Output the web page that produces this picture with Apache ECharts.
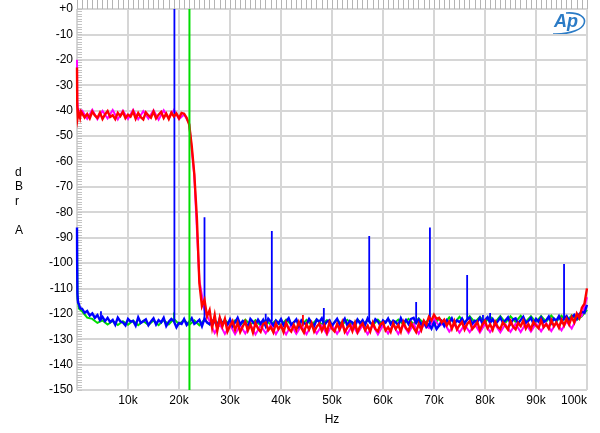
<!DOCTYPE html>
<html><head><meta charset="utf-8">
<script src="https://cdn.jsdelivr.net/npm/echarts@6/dist/echarts.min.js"></script>
<style>html,body{margin:0;padding:0;background:#fff}#c{width:600px;height:433px}</style>
</head><body><div id="c"></div>
<script>
// X values in kHz
const xTicks = [10,20,30,40,50,60,70,80,90,100];
const yTicks = [0,-10,-20,-30,-40,-50,-60,-70,-80,-90,-100,-110,-120,-130,-140,-150];

// Blue trace: lead-in (0..1k), then 1k..100k every 0.5k
const blueLead = [[0,-86],[0.03,-100],[0.08,-112],[0.2,-115.5],[0.4,-116.3],[0.6,-117.8],[0.8,-117.1]];
const blueStart = 1, blueStep = 0.5;
const blueValues = [
-118.0,-119.6,-118.9,-120.7,-119.8,-121.6,-120.5,-122.5,-121.2,-122.9,
-121.6,-123.3,-122.4,-124.3,-121.5,-123.0,-123.4,-124.6,-122.0,-123.1,
-122.8,-124.7,-121.4,-123.6,-122.9,-122.2,-124.5,-123.0,-121.8,-124.2,
-122.5,-123.4,-121.6,-124.8,-123.1,-122.0,-122.9,-125.3,-123.6,-124.0,
-122.1,-124.4,-123.2,-121.7,-124.0,-123.3,-122.4,-124.9,-121.9,-123.5,
-124.1,-122.6,-123.0,-125.0,-121.8,-123.7,-122.9,-124.3,-122.2,-124.8,
-123.4,-121.6,-124.2,-122.8,-123.5,-125.1,-122.0,-123.2,-124.4,-122.3,
-123.9,-122.4,-124.9,-121.9,-123.1,-124.6,-122.7,-123.8,-122.1,-124.5,
-123.0,-121.7,-124.3,-123.4,-122.2,-124.9,-122.6,-123.7,-124.1,-122.0,
-123.6,-124.8,-122.3,-123.2,-121.8,-124.5,-123.1,-122.5,-124.7,-123.3,
-122.0,-124.2,-123.5,-121.9,-124.6,-122.8,-123.4,-125.0,-122.3,-123.8,
-122.5,-124.4,-121.8,-123.6,-124.2,-122.1,-123.0,-124.7,-122.6,-123.5,
-121.9,-124.1,-122.7,-123.3,-124.5,-121.7,-123.8,-122.4,-124.0,-122.0,
-121.6,-123.7,-122.2,-124.3,-123.0,-125.2,-124.1,-125.8,-123.5,-126.0,
-124.6,-122.9,-124.8,-122.5,-123.6,-121.8,-124.0,-122.6,-123.3,-121.9,
-123.8,-122.3,-121.5,-124.0,-122.7,-123.2,-121.6,-123.9,-122.4,-121.3,
-123.6,-122.1,-124.1,-122.9,-121.5,-123.4,-122.6,-121.4,-123.9,-122.2,
-121.8,-123.7,-122.4,-121.2,-123.5,-122.8,-121.6,-123.9,-122.0,-123.1,
-121.4,-123.3,-122.5,-121.1,-123.6,-121.9,-122.7,-120.9,-123.2,-121.8,
-120.9,-122.6,-121.5,-120.4,-121.9,-120.1,-119.2,-119.6,-116.5
];
// spikes: [freq kHz, peak dBr, base dBr]
const blueSpikes = [[4.7,-119,-122.5],[19.1,0,-123],[25.0,-82,-123],[37.0,-120,-123],[38.2,-87.4,-123],[48.4,-117.7,-123],[57.3,-89.4,-123],[66.5,-115.4,-123],[69.2,-86,-124],[76.5,-104.7,-122.5],[79.6,-120.5,-122.5],[81.0,-119.7,-122.5],[95.5,-100.4,-122]];

// Red trace
const redLead = [[0,-23],[0.05,-38],[0.15,-42.5],[0.3,-40.6],[0.6,-42.8],[0.8,-40.4]];
const redStart = 1, redStep = 0.5;
const redValues = [
-40.6,-42.7,-41.3,-43.1,-40.4,-41.9,-42.9,-40.8,-43.3,-41.5,
-40.2,-42.5,-41.8,-43.4,-40.9,-42.2,-40.5,-43.0,-41.6,-42.4,
-40.3,-43.2,-41.0,-42.6,-43.5,-40.7,-41.9,-42.8,-40.4,-43.1,
-41.6,-40.5,-42.9,-41.2,-43.3,-40.8,-42.3,-41.1,-43.0,-40.9,
-41.2,-42.8,-45.5,-54.0,-65.0,-82.0,-108.0,-117.0,-114.5,-121.0,
-118.5,-125.5,-120.5,-126.8,-121.5,-125.0,-122.0,-127.0,-124.8,-122.9,
-126.3,-123.5,-127.2,-125.0,-123.1,-126.6,-124.2,-127.4,-123.6,-125.8,
-127.1,-124.0,-123.4,-126.5,-125.2,-127.3,-123.8,-126.0,-124.6,-127.2,
-123.5,-125.9,-127.0,-124.3,-126.4,-123.2,-125.6,-127.4,-124.1,-126.2,
-123.7,-127.0,-125.1,-123.9,-126.7,-124.5,-127.3,-123.4,-125.8,-126.9,
-124.0,-126.2,-123.3,-127.1,-125.4,-124.2,-126.8,-123.6,-127.2,-125.0,
-123.8,-126.5,-124.7,-127.0,-123.5,-125.9,-126.9,-124.1,-123.4,-126.6,
-125.3,-127.1,-123.7,-126.0,-124.4,-127.0,-123.2,-125.6,-126.7,-123.8,
-125.5,-127.2,-124.0,-126.4,-122.8,-124.3,-121.2,-122.6,-120.4,-122.0,
-121.6,-123.4,-122.3,-124.6,-123.0,-125.9,-122.9,-126.1,-124.5,-123.2,
-126.2,-124.0,-122.9,-126.0,-124.8,-123.3,-126.4,-124.2,-122.8,-125.7,
-124.1,-126.3,-123.1,-125.2,-126.0,-123.4,-124.7,-126.2,-122.9,-125.0,
-126.1,-123.6,-124.9,-122.7,-125.8,-124.0,-126.0,-123.2,-124.6,-125.7,
-122.6,-125.3,-124.1,-125.8,-122.5,-124.9,-123.4,-125.5,-122.4,-124.6,
-121.9,-124.2,-121.3,-123.4,-119.9,-121.7,-117.6,-116.0,-110.0
];
const redSpikes = [[44.3,-120.5,-125]];

// Magenta trace: 1k..100k every 1k
const magentaLead = [[0,-20],[0.05,-36],[0.2,-40]];
const magentaStart = 1, magentaStep = 1;
const magentaValues = [
-40.0,-43.2,-39.7,-43.4,-40.1,-43.1,-39.8,-43.5,-40.0,-43.3,
-39.7,-43.4,-40.2,-43.2,-39.9,-43.6,-39.9,-43.1,-39.8,-43.4,
-41.5,-45.0,-65.5,-107.0,-118.5,-123.0,-127.6,-124.0,-127.9,-124.3,
-128.0,-124.5,-127.8,-124.2,-128.1,-124.6,-127.7,-124.3,-128.0,-124.5,
-128.1,-124.4,-127.9,-124.7,-128.0,-124.3,-127.8,-124.6,-128.1,-124.4,
-127.9,-124.5,-128.0,-124.3,-127.7,-124.6,-128.0,-124.4,-128.1,-124.5,
-127.8,-124.3,-127.9,-124.4,-127.6,-124.0,-127.8,-124.3,-125.6,-121.8,
-124.8,-123.6,-127.0,-124.2,-127.4,-124.3,-127.2,-124.1,-127.4,-124.0,
-127.2,-124.2,-127.3,-124.1,-127.1,-124.0,-127.2,-123.9,-127.0,-123.8,
-126.9,-123.7,-126.8,-123.5,-126.5,-123.0,-125.8,-121.8,-120.8,-113.5
];

// Green trace: 1k..100k every 1k
const greenLead = [[0,-88],[0.1,-114],[0.4,-118]];
const greenStart = 1, greenStep = 1;
const greenValues = [
-119.0,-121.5,-122.0,-123.6,-122.6,-124.2,-122.8,-124.4,-122.9,-124.3,
-122.7,-124.5,-122.8,-124.4,-122.6,-124.5,-122.5,-124.2,-122.0,-124.1,
-122.4,-124.4,-122.6,-124.5,-122.3,-124.3,-122.5,-124.6,-122.4,-124.4,
-122.6,-124.5,-122.3,-124.3,-122.5,-124.6,-122.4,-124.4,-122.6,-124.5,
-122.3,-124.3,-122.5,-124.5,-122.4,-124.4,-122.2,-124.2,-122.5,-124.5,
-122.3,-124.3,-122.4,-124.4,-122.2,-124.2,-122.5,-124.5,-122.3,-124.3,
-122.1,-124.1,-122.3,-124.2,-122.0,-124.0,-121.8,-123.7,-122.5,-124.4,
-121.8,-123.9,-121.4,-123.6,-121.2,-123.5,-121.0,-123.3,-121.2,-123.4,
-121.1,-123.3,-120.9,-123.5,-121.0,-123.2,-120.8,-123.1,-121.0,-123.3,
-120.9,-123.1,-120.7,-123.0,-120.8,-122.9,-120.6,-122.4,-121.0,-118.5
];
const greenSpikes = [[19.0,-119.5,-123]];
const greenMarkerFreq = 22.05;
const greenMarkerRange = [-150, 0];

function build(lead, start, step, values) {
  const pts = lead.map(p => [p[0], p[1]]);
  values.forEach((v, i) => pts.push([+(start + i * step).toFixed(3), v]));
  return pts;
}
function buildSpikes(spikes) {
  const pts = [];
  spikes.forEach(s => { pts.push([s[0], s[2]]); pts.push([s[0], s[1]]); pts.push([s[0], '-']); });
  return pts;
}

const FONT = '"Liberation Sans", Arial, sans-serif';
const chart = echarts.init(document.getElementById('c'), null, {renderer: 'canvas'});
const lineSeries = (name, color, data, width, z) => ({
  name, type: 'line', data, showSymbol: false, symbol: 'none', z, connectNulls: false,
  lineStyle: {color, width, join: 'miter'}, itemStyle: {color}, animation: false, clip: true
});

chart.setOption({
  animation: false,
  backgroundColor: '#ffffff',
  grid: {left: 77, right: 13, top: 9, bottom: 43, show: true, borderColor: '#a8a8a8', borderWidth: 1, backgroundColor: 'transparent'},
  xAxis: {
    type: 'value', min: 0, max: 100, interval: 10,
    name: 'Hz', nameLocation: 'middle', nameGap: 24,
    nameTextStyle: {fontFamily: FONT, fontSize: 12, color: '#000'},
    axisLine: {show: false},
    axisTick: {show: true, inside: true, length: 13, lineStyle: {color: '#b4b4b4', width: 1}},
    minorTick: {show: true, splitNumber: 10, length: 13, lineStyle: {color: '#b4b4b4', width: 1}},
    axisLabel: {
      fontFamily: FONT, fontSize: 12, color: '#000', margin: 5,
      showMinLabel: false, alignMaxLabel: 'right',
      formatter: v => xTicks.includes(v) ? v + 'k' : ''
    },
    splitLine: {show: true, lineStyle: {color: '#d6d6d6', width: 2}}
  },
  yAxis: {
    type: 'value', min: -150, max: 0, interval: 10,
    axisLine: {show: false},
    axisTick: {show: true, inside: true, length: 5, lineStyle: {color: '#c4c4c4', width: 1}},
    minorTick: {show: true, splitNumber: 10, length: 5, lineStyle: {color: '#c4c4c4', width: 1}},
    axisLabel: {
      fontFamily: FONT, fontSize: 12, color: '#000', margin: 4,
      formatter: v => yTicks.includes(v) ? (v === 0 ? '+0' : String(v)) : ''
    },
    splitLine: {show: true, lineStyle: {color: '#d6d6d6', width: 2}}
  },
  series: [
    lineSeries('green', '#00dd00', build(greenLead, greenStart, greenStep, greenValues), 2, 2),
    lineSeries('green spikes', '#00dd00', buildSpikes(greenSpikes), 1.8, 2),
    lineSeries('magenta', '#ff00ff', build(magentaLead, magentaStart, magentaStep, magentaValues), 2, 3),
    lineSeries('blue', '#0000ff', build(blueLead, blueStart, blueStep, blueValues), 2.4, 4),
    lineSeries('blue spikes', '#0000ff', buildSpikes(blueSpikes), 1.8, 4),
    lineSeries('red', '#ff0000', build(redLead, redStart, redStep, redValues), 2.4, 5),
    lineSeries('red spikes', '#ff0000', buildSpikes(redSpikes), 1.8, 5),
    lineSeries('green marker', '#00dd00', [[greenMarkerFreq, greenMarkerRange[0]], [greenMarkerFreq, greenMarkerRange[1]]], 2, 6)
  ],
  graphic: [
    {type: 'text', left: 15, top: 165, style: {text: 'd\nB\nr\n\nA', fontFamily: FONT, fontSize: 12, lineHeight: 14.5, align: 'center', fill: '#000'}},
    {type: 'text', left: 554, top: 13, style: {text: 'Ap', fontFamily: FONT, fontSize: 18, fontStyle: 'italic', fontWeight: 'bold', fill: '#2b7bc6'}},
    {type: 'bezierCurve', shape: {x1: 566, y1: 13, cpx1: 593, cpy1: 11, cpx2: 592, cpy2: 35, x2: 553, y2: 34}, style: {stroke: '#2b7bc6', lineWidth: 1.6, fill: null}}
  ]
});
</script></body></html>
